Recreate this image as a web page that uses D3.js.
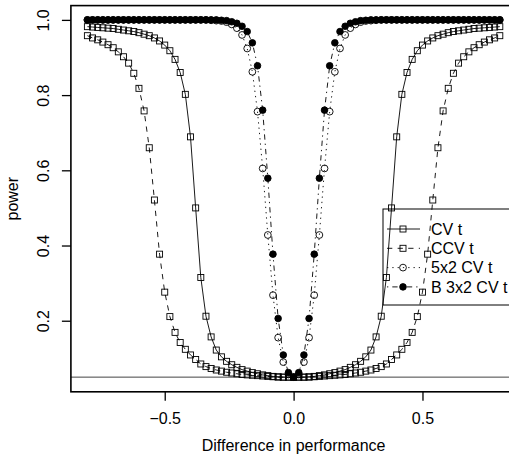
<!DOCTYPE html>
<html>
<head>
<meta charset="utf-8">
<script src="https://cdn.jsdelivr.net/npm/d3@7"></script>
<style>
  body { margin: 0; background: #fff; }
  text { font-family: "Liberation Sans", Arial, sans-serif; }
</style>
</head>
<body>
<div id="vis-container"></div>
<script>
// Difference in performance (x grid)
var diffs = [-0.80, -0.78, -0.76, -0.74, -0.72, -0.70, -0.68, -0.66, -0.64, -0.62,
    -0.60, -0.58, -0.56, -0.54, -0.52, -0.50, -0.48, -0.46, -0.44, -0.42,
    -0.40, -0.38, -0.36, -0.34, -0.32, -0.30, -0.28, -0.26, -0.24, -0.22,
    -0.20, -0.18, -0.16, -0.14, -0.12, -0.10, -0.08, -0.06, -0.04, -0.02,
    0.00, 0.02, 0.04, 0.06, 0.08, 0.10, 0.12, 0.14, 0.16, 0.18,
    0.20, 0.22, 0.24, 0.26, 0.28, 0.30, 0.32, 0.34, 0.36, 0.38,
    0.40, 0.42, 0.44, 0.46, 0.48, 0.50, 0.52, 0.54, 0.56, 0.58,
    0.60, 0.62, 0.64, 0.66, 0.68, 0.70, 0.72, 0.74, 0.76, 0.78, 0.80];

var cvT = [0.982, 0.981, 0.980, 0.979, 0.978, 0.977, 0.975, 0.973, 0.971, 0.969,
    0.966, 0.962, 0.958, 0.952, 0.944, 0.933, 0.918, 0.895, 0.860, 0.802,
    0.689, 0.500, 0.315, 0.212, 0.157, 0.122, 0.104, 0.092, 0.083, 0.076,
    0.070, 0.066, 0.062, 0.059, 0.056, 0.054, 0.052, 0.051, 0.050, 0.050,
    0.050, 0.050, 0.050, 0.051, 0.052, 0.054, 0.056, 0.059, 0.062, 0.066,
    0.070, 0.076, 0.083, 0.092, 0.104, 0.122, 0.157, 0.212, 0.315, 0.500,
    0.689, 0.802, 0.860, 0.895, 0.918, 0.933, 0.944, 0.952, 0.958, 0.962,
    0.966, 0.969, 0.971, 0.973, 0.975, 0.977, 0.978, 0.979, 0.980, 0.981, 0.982];

var ccvT = [0.958, 0.952, 0.947, 0.941, 0.934, 0.926, 0.915, 0.902, 0.885, 0.858,
    0.818, 0.758, 0.660, 0.521, 0.377, 0.276, 0.211, 0.169, 0.142, 0.124,
    0.109, 0.097, 0.085, 0.078, 0.073, 0.069, 0.066, 0.063, 0.061, 0.059,
    0.057, 0.056, 0.055, 0.054, 0.053, 0.052, 0.051, 0.050, 0.050, 0.050,
    0.050, 0.050, 0.050, 0.050, 0.051, 0.052, 0.053, 0.054, 0.055, 0.056,
    0.057, 0.059, 0.061, 0.063, 0.066, 0.069, 0.073, 0.078, 0.085, 0.097,
    0.109, 0.124, 0.142, 0.169, 0.211, 0.276, 0.377, 0.521, 0.660, 0.758,
    0.818, 0.858, 0.885, 0.902, 0.915, 0.926, 0.934, 0.941, 0.947, 0.952, 0.958];

var fiveByTwo = [1.000, 1.000, 1.000, 1.000, 1.000, 1.000, 1.000, 1.000, 1.000, 1.000,
    1.000, 1.000, 1.000, 1.000, 1.000, 1.000, 1.000, 1.000, 1.000, 1.000,
    1.000, 1.000, 1.000, 1.000, 0.999, 0.998, 0.997, 0.994, 0.988, 0.978,
    0.960, 0.924, 0.862, 0.756, 0.605, 0.428, 0.268, 0.155, 0.090, 0.057,
    0.050, 0.057, 0.090, 0.155, 0.268, 0.428, 0.605, 0.756, 0.862, 0.924,
    0.960, 0.978, 0.988, 0.994, 0.997, 0.998, 0.999, 1.000, 1.000, 1.000,
    1.000, 1.000, 1.000, 1.000, 1.000, 1.000, 1.000, 1.000, 1.000, 1.000,
    1.000, 1.000, 1.000, 1.000, 1.000, 1.000, 1.000, 1.000, 1.000, 1.000, 1.000];

var bThreeByTwo = [1.000, 1.000, 1.000, 1.000, 1.000, 1.000, 1.000, 1.000, 1.000, 1.000,
    1.000, 1.000, 1.000, 1.000, 1.000, 1.000, 1.000, 1.000, 1.000, 1.000,
    1.000, 1.000, 1.000, 1.000, 1.000, 1.000, 0.999, 0.998, 0.995, 0.991,
    0.983, 0.969, 0.939, 0.878, 0.760, 0.579, 0.377, 0.206, 0.109, 0.062,
    0.050, 0.062, 0.109, 0.206, 0.377, 0.579, 0.760, 0.878, 0.939, 0.969,
    0.983, 0.991, 0.995, 0.998, 0.999, 1.000, 1.000, 1.000, 1.000, 1.000,
    1.000, 1.000, 1.000, 1.000, 1.000, 1.000, 1.000, 1.000, 1.000, 1.000,
    1.000, 1.000, 1.000, 1.000, 1.000, 1.000, 1.000, 1.000, 1.000, 1.000, 1.000];

var seriesNames = ['CV t', 'CCV t', '5x2 CV t', 'B 3x2 CV t'];
var xTicks = [-0.5, 0.0, 0.5];
var yTicks = [0.2, 0.4, 0.6, 0.8, 1.0];
var alphaLevel = 0.05;

// line type + symbol per series (R lty 1..4, pch 0, 0, 1, 19)
var styles = [
    { values: cvT, dash: null, shape: 'square', fill: 'none' },
    { values: ccvT, dash: '5.3,5.3', shape: 'square', fill: 'none' },
    { values: fiveByTwo, dash: '1.3,4', shape: 'circle', fill: 'none' },
    { values: bThreeByTwo, dash: '1.3,4,5.3,4', shape: 'circle', fill: '#000' }
];

var W = 509, H = 459;
var margin = { top: 5.6, left: 70.9 },
    width = 445.4,
    height = 386.2;

var xScale = d3.scaleLinear()
    .domain([-0.864, 0.864])
    .range([0, width]);

var yScale = d3.scaleLinear()
    .domain([0.011, 1.038])
    .range([height, 0]);

var svg = d3.select("#vis-container")
    .append("svg")
    .attr("width", W)
    .attr("height", H);

var canvas = svg.append("g")
    .attr("transform", "translate(" + margin.left + "," + margin.top + ")");

// plot region clip
canvas.append("clipPath").attr("id", "plot-clip")
    .append("rect").attr("width", width).attr("height", height);

var plot = canvas.append("g").attr("clip-path", "url(#plot-clip)");

// reference line at 0.05
plot.append("line")
    .attr("x1", 0).attr("x2", width)
    .attr("y1", yScale(alphaLevel)).attr("y2", yScale(alphaLevel))
    .attr("stroke", "#444")
    .attr("stroke-width", 1);

var drawSymbol = function (sel, shape, fill) {
    if (shape === 'square') {
        sel.append("rect")
            .attr("x", -3).attr("y", -3)
            .attr("width", 6).attr("height", 6)
            .attr("fill", fill).attr("stroke", "#000").attr("stroke-width", 0.9);
    } else {
        sel.append("circle")
            .attr("r", fill === 'none' ? 3.4 : 3.3)
            .attr("fill", fill).attr("stroke", "#000").attr("stroke-width", 0.9);
    }
};

var line = d3.line()
    .x(function (d, i) { return xScale(diffs[i]); })
    .y(function (d) { return yScale(d); });

styles.forEach(function (s) {
    plot.append("path")
        .datum(s.values)
        .attr("d", line)
        .attr("fill", "none")
        .attr("stroke", "#000")
        .attr("stroke-width", 0.9)
        .attr("stroke-dasharray", s.dash);

    plot.selectAll(null)
        .data(s.values)
        .enter().append("g")
        .attr("transform", function (d, i) {
            return "translate(" + xScale(diffs[i]) + "," + yScale(d) + ")";
        })
        .each(function () { drawSymbol(d3.select(this), s.shape, s.fill); });
});

// box
canvas.append("rect")
    .attr("width", width).attr("height", height)
    .attr("fill", "none").attr("stroke", "#000").attr("stroke-width", 1.6);

// axes, R style
var xAxis = d3.axisBottom(xScale)
    .tickValues(xTicks)
    .tickSize(9).tickPadding(12)
    .tickFormat(function (d) { return d3.format(".1f")(d).replace("-", "\u2212"); });

var xg = canvas.append("g")
    .attr("transform", "translate(0," + height + ")")
    .call(xAxis);
xg.select(".domain").remove();
xg.selectAll("line").attr("stroke-width", 1.3);
xg.selectAll("text").attr("font-size", 16).attr("fill", "#000");

var yAxis = d3.axisLeft(yScale)
    .tickValues(yTicks)
    .tickSize(9)
    .tickFormat(d3.format(".1f"));

var yg = canvas.append("g").call(yAxis);
yg.select(".domain").remove();
yg.selectAll("line").attr("stroke-width", 1.3);
yg.selectAll("text")
    .attr("font-size", 16).attr("fill", "#000")
    .attr("x", null).attr("dy", null)
    .attr("text-anchor", "middle")
    .attr("transform", "translate(-22,0) rotate(-90)")
    .attr("y", 0);

// axis titles
svg.append("text")
    .attr("x", margin.left + xScale(0))
    .attr("y", 451)
    .attr("text-anchor", "middle")
    .attr("font-size", 16)
    .text("Difference in performance");

svg.append("text")
    .attr("transform", "translate(18," + (margin.top + height / 2) + ") rotate(-90)")
    .attr("text-anchor", "middle")
    .attr("font-size", 16)
    .text("power");

// legend (transparent, runs off the right edge)
var legend = svg.append("g").attr("transform", "translate(383,209)");
legend.append("rect")
    .attr("width", 160).attr("height", 96)
    .attr("fill", "none").attr("stroke", "#000").attr("stroke-width", 1);

styles.forEach(function (s, i) {
    var row = legend.append("g").attr("transform", "translate(0," + (20 + i * 19.3) + ")");
    row.append("line")
        .attr("x1", 4).attr("x2", 37)
        .attr("stroke", "#000").attr("stroke-width", 0.9)
        .attr("stroke-dasharray", s.dash);
    var sym = row.append("g").attr("transform", "translate(20,0)");
    drawSymbol(sym, s.shape, s.fill);
    row.append("text")
        .attr("x", 48).attr("dy", "0.35em")
        .attr("font-size", 16)
        .text(seriesNames[i]);
});
</script>
</body>
</html>
